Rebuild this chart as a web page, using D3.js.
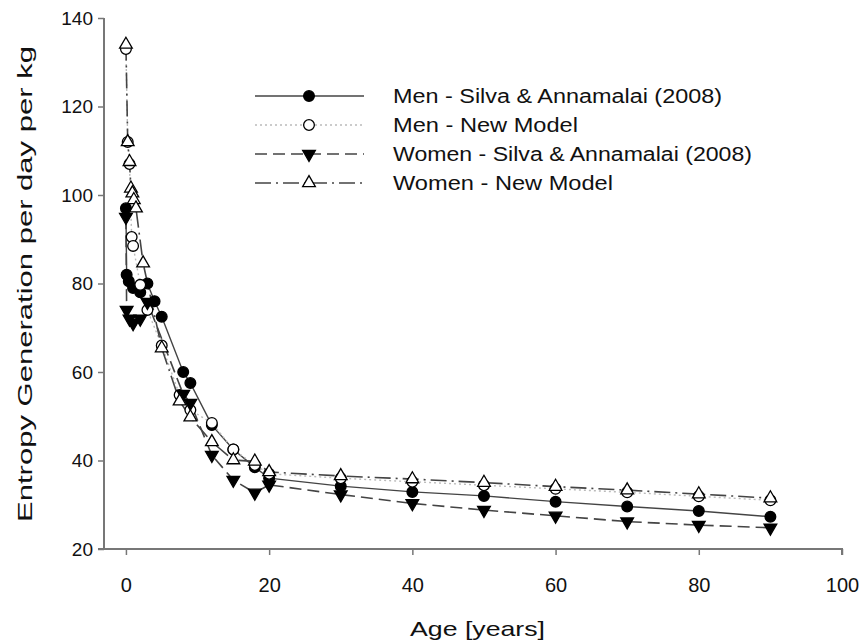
<!DOCTYPE html>
<html>
<head>
<meta charset="utf-8">
<script src="https://cdn.jsdelivr.net/npm/d3@7"></script>
<style>
body { margin: 0; background: #fff; }
text { font-family: "Liberation Sans", Arial, sans-serif; fill: #111; }
</style>
</head>
<body>
<div id="chart"></div>
<script>
var width = 863, height = 642;

// ages and values
var menSA = [[0,97],[0.1,82],[0.4,80.5],[1,79],[2,78],[3,80],[4,76],[5,72.5],[8,60],[9,57.5],[12,48],[15,42.5],[18,38.5],[20,36],[30,34.2],[40,32.9],[50,32],[60,30.7],[70,29.6],[80,28.6],[90,27.3]];
var menNM = [[0,133],[0.25,112],[0.5,107],[0.8,90.5],[1,88.5],[2,79.7],[3,74],[5,66],[7.5,54.8],[9,51.4],[12,48.5],[15,42.5],[18,39],[20,37],[30,36],[40,35.2],[50,34.4],[60,33.6],[70,32.8],[80,31.9],[90,31]];
var womenSA = [[0,95],[0.1,74],[0.5,72],[1,71],[2,72],[3,75.8],[8,55],[9,53],[12,41.2],[15,35.6],[18,32.7],[20,34.5],[30,32.3],[40,30.3],[50,28.8],[60,27.5],[70,26.2],[80,25.4],[90,24.8]];
var womenNM = [[0,134],[0.25,112],[0.5,107.5],[0.7,101.5],[0.9,100.4],[1.1,98.9],[1.4,97],[2.4,84.6],[5,65.4],[7.5,53.4],[9,49.8],[12,44.2],[15,40.1],[18,39.8],[20,37.4],[30,36.5],[40,35.8],[50,35],[60,34.1],[70,33.3],[80,32.4],[90,31.5]];

var seriesNames = ["Men - Silva & Annamalai (2008)", "Men - New Model", "Women - Silva & Annamalai (2008)", "Women - New Model"];
var xTicks = [0, 20, 40, 60, 80, 100];
var yTicks = [20, 40, 60, 80, 100, 120, 140];

var svg = d3.select("#chart").append("svg")
  .attr("width", width)
  .attr("height", height);

var x = d3.scaleLinear().domain([-3.9, 100]).range([98, 842]);
var y = d3.scaleLinear().domain([20, 140]).range([549, 18]);

// axes
var xAxis = d3.axisBottom(x).tickValues(xTicks).tickSize(6).tickSizeOuter(0).tickPadding(23);
var yAxis = d3.axisLeft(y).tickValues(yTicks).tickSize(6).tickSizeOuter(0).tickPadding(5);

var gx = svg.append("g").attr("transform", "translate(0,549)").call(xAxis);
gx.select(".domain").attr("stroke", "#777").attr("stroke-width", 2).attr("d", "M98,0H842V6");
gx.selectAll(".tick line").attr("stroke", "#777").attr("stroke-width", 1.5);
gx.selectAll(".tick text").style("font-size", "20px").attr("fill", "#111");

var gy = svg.append("g").attr("transform", "translate(104,0)").call(yAxis);
gy.select(".domain").attr("stroke", "#777").attr("stroke-width", 2).attr("d", "M0,549V18");
gy.selectAll(".tick line").attr("stroke", "#777").attr("stroke-width", 1.5);
gy.selectAll(".tick text").style("font-size", "19px").attr("fill", "#111");

svg.append("text")
  .attr("x", 410).attr("y", 636)
  .style("font-size", "21px")
  .attr("textLength", 135)
  .attr("lengthAdjust", "spacingAndGlyphs")
  .text("Age [years]");

svg.append("text")
  .attr("transform", "translate(32,522) rotate(-90)")
  .style("font-size", "21px")
  .attr("textLength", 476)
  .attr("lengthAdjust", "spacingAndGlyphs")
  .text("Entropy Generation per day per kg");

var line = d3.line().x(d => x(d[0])).y(d => y(d[1]));

var styles = [
  { data: menSA, dash: null, stroke: "#444", width: 1.4, sym: d3.symbolCircle, size: 90, fill: "#000", rot: 0 },
  { data: menNM, dash: "2,3", stroke: "#bbb", width: 1.4, sym: d3.symbolCircle, size: 90, fill: "#fff", rot: 0 },
  { data: womenSA, dash: "12,6", stroke: "#444", width: 1.6, sym: d3.symbolTriangle, size: 70, fill: "#000", rot: 180 },
  { data: womenNM, dash: "16,5,2,5", stroke: "#444", width: 1.6, sym: d3.symbolTriangle, size: 70, fill: "#fff", rot: 0 }
];

styles.forEach(function(s) {
  svg.append("path")
    .datum(s.data)
    .attr("fill", "none")
    .attr("stroke", s.stroke)
    .attr("stroke-width", s.width)
    .attr("stroke-dasharray", s.dash)
    .attr("d", line);
});

styles.forEach(function(s) {
  svg.append("g").selectAll("path")
    .data(s.data)
    .enter()
    .append("path")
    .attr("d", d3.symbol().type(s.sym).size(s.size))
    .attr("transform", d => `translate(${x(d[0])},${y(d[1])}) rotate(${s.rot})`)
    .attr("fill", s.fill)
    .attr("stroke", "#000")
    .attr("stroke-width", 1.3);
});

// legend
var legendY = [96, 125, 154, 183];
var legendLen = [329, 185, 359, 220];
var legend = svg.append("g");
styles.forEach(function(s, i) {
  legend.append("line")
    .attr("x1", 255).attr("x2", 364)
    .attr("y1", legendY[i]).attr("y2", legendY[i])
    .attr("stroke", s.stroke)
    .attr("stroke-width", s.width)
    .attr("stroke-dasharray", s.dash);
  legend.append("path")
    .attr("d", d3.symbol().type(s.sym).size(s.size))
    .attr("transform", `translate(309,${legendY[i]}) rotate(${s.rot})`)
    .attr("fill", s.fill)
    .attr("stroke", "#000")
    .attr("stroke-width", 1.3);
  legend.append("text")
    .attr("x", 393).attr("y", legendY[i] + 7)
    .style("font-size", "20px")
    .attr("textLength", legendLen[i])
    .attr("lengthAdjust", "spacingAndGlyphs")
    .text(seriesNames[i]);
});
</script>
</body>
</html>
